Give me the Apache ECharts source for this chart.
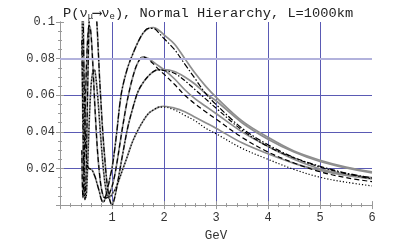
<!DOCTYPE html>
<html><head><meta charset="utf-8">
<script src="https://cdn.jsdelivr.net/npm/echarts@6/dist/echarts.min.js"></script>
<style>html,body{margin:0;padding:0;background:#fff}#c{width:400px;height:247px}</style>
</head><body><div id="c"></div>
<script>
// Energy grid (GeV)
const energy = [0.42,0.44,0.46,0.48,0.50,0.52,0.54,0.56,0.58,0.60,
  0.62,0.64,0.66,0.68,0.70,0.72,0.74,0.76,0.78,0.80,
  0.82,0.84,0.86,0.88,0.90,0.92,0.94,0.96,0.98,1.00,
  1.05,1.10,1.15,1.20,1.30,1.40,1.50,1.60,1.70,1.80,1.90,2.00,
  2.20,2.40,2.60,2.80,3.00,3.50,4.00,4.50,5.00,5.50,6.00];

// Exact curves (gray solid)
const exactA = [0.16,0.12,0.075,0.045,0.030,0.023,0.0205,0.020,0.0198,0.0195,
  0.019,0.018,0.0165,0.015,0.013,0.011,0.009,0.007,0.0045,0.0028,
  0.0018,0.0018,0.003,0.005,0.007,0.010,0.012,0.015,0.0175,0.020,
  0.030,0.042,0.055,0.064,0.075,0.0825,0.089,0.094,0.0965,0.097,0.0955,0.093,
  0.088,0.080,0.072,0.065,0.059,0.046,0.037,0.0295,0.0245,0.0208,0.0182];
const exactB = [0.030,0.004,0.015,0.045,0.068,0.084,0.094,0.098,0.097,0.092,
  0.083,0.072,0.060,0.049,0.039,0.030,0.023,0.017,0.012,0.0085,
  0.006,0.0045,0.004,0.0038,0.004,0.0045,0.0055,0.007,0.0085,0.010,
  0.016,0.024,0.033,0.042,0.058,0.070,0.078,0.081,0.080,0.078,0.076,0.074,
  0.069,0.063,0.058,0.054,0.050,0.040,0.032,0.025,0.0198,0.0168,0.0150];
const exactC = [0.090,0.045,0.012,0.003,0.015,0.045,0.075,0.100,0.120,0.135,
  0.140,0.138,0.130,0.118,0.104,0.094,0.082,0.070,0.060,0.050,
  0.041,0.033,0.026,0.019,0.013,0.0085,0.005,0.0025,0.0008,0.0,
  0.004,0.011,0.019,0.027,0.042,0.053,0.062,0.067,0.0705,0.073,0.074,0.074,
  0.073,0.070,0.066,0.061,0.057,0.045,0.036,0.029,0.0238,0.0203,0.0176];
const exactD = [0.120,0.070,0.030,0.008,0.004,0.013,0.028,0.044,0.057,0.066,
  0.071,0.0735,0.074,0.072,0.067,0.061,0.054,0.046,0.038,0.031,
  0.024,0.018,0.013,0.009,0.006,0.0045,0.004,0.0045,0.005,0.006,
  0.008,0.011,0.015,0.019,0.027,0.035,0.041,0.046,0.050,0.052,0.0535,0.054,
  0.053,0.051,0.048,0.045,0.042,0.034,0.028,0.0228,0.0190,0.0162,0.0143];

// Approximations (black)
const approxA = [0.16,0.12,0.075,0.045,0.030,0.023,0.0205,0.020,0.0198,0.0195,
  0.019,0.018,0.0165,0.015,0.013,0.011,0.009,0.007,0.0045,0.0028,
  0.0018,0.0018,0.003,0.005,0.007,0.010,0.012,0.015,0.0175,0.020,
  0.030,0.042,0.055,0.064,0.075,0.0825,0.089,0.094,0.0965,0.0965,0.094,0.091,
  0.085,0.077,0.069,0.061,0.055,0.042,0.033,0.026,0.0212,0.0175,0.0148];
const approxB = [0.030,0.004,0.015,0.045,0.068,0.084,0.094,0.098,0.097,0.092,
  0.083,0.072,0.060,0.049,0.039,0.030,0.023,0.017,0.012,0.0085,
  0.006,0.0045,0.004,0.0038,0.004,0.0045,0.0055,0.007,0.0085,0.010,
  0.016,0.024,0.033,0.042,0.058,0.070,0.078,0.081,0.0795,0.077,0.074,0.0715,
  0.066,0.060,0.0552,0.0510,0.047,0.037,0.029,0.023,0.0182,0.0150,0.0128];
const approxC = [0.090,0.045,0.012,0.003,0.015,0.045,0.075,0.100,0.120,0.135,
  0.140,0.138,0.130,0.118,0.104,0.094,0.082,0.070,0.060,0.050,
  0.041,0.033,0.026,0.019,0.013,0.0085,0.005,0.0025,0.0008,0.0,
  0.004,0.011,0.019,0.027,0.042,0.053,0.062,0.067,0.0705,0.073,0.074,0.0735,
  0.072,0.068,0.063,0.058,0.053,0.041,0.032,0.0258,0.0208,0.0172,0.0143];
const approxD = [0.120,0.070,0.030,0.008,0.004,0.013,0.028,0.044,0.057,0.066,
  0.071,0.0735,0.074,0.072,0.067,0.061,0.054,0.046,0.038,0.031,
  0.024,0.018,0.013,0.009,0.006,0.0045,0.004,0.0045,0.005,0.006,
  0.008,0.011,0.015,0.019,0.027,0.035,0.041,0.046,0.050,0.052,0.0535,0.0535,
  0.052,0.049,0.046,0.042,0.039,0.031,0.025,0.0195,0.0152,0.0125,0.0105];

const xTickLabels = ['', '1', '2', '3', '4', '5', '6'];
const yTickLabels = ['', '0.02', '0.04', '0.06', '0.08', '0.1'];
const highlightGrid = [0.08];

function pairs(ys) { return energy.map((e, i) => [e, ys[i]]); }

const MONO = '"Liberation Mono", "DejaVu Sans Mono", monospace';
const BLUE = '#5a5ab4';
const FRAME = '#999999';
const T = 'rgba(0,0,0,0)';

const gray = (name, ys) => ({
  name, type: 'line', data: pairs(ys), showSymbol: false, smooth: 0.35,
  clip: true, z: 2, lineStyle: { color: '#8e8e8e', width: 1.7 }
});
const black = (name, ys, dash) => ({
  name, type: 'line', data: pairs(ys), showSymbol: false, smooth: 0.35,
  clip: true, z: 3, lineStyle: { color: '#000', width: 1.2, type: dash }
});

const axisCommon = {
  min: 0, axisLine: { show: true, lineStyle: { color: FRAME, width: 1 } },
  axisTick: { show: true, inside: true, length: 4, lineStyle: { color: FRAME } },
  minorTick: { show: true, length: 2, lineStyle: { color: FRAME } }
};

const chart = echarts.init(document.getElementById('c'), null, { renderer: 'canvas' });
chart.setOption({
  animation: false,
  backgroundColor: '#fff',
  title: {
    left: 58, top: 0,
    text: '{t|P(ν}{s|μ}{t|⟶ν}{s|e}{t|), Normal Hierarchy, L=1000km}',
    textStyle: {
      fontWeight: 'normal',
      rich: {
        t: { fontFamily: MONO, fontSize: 13.7, fontWeight: 'normal', color: '#222', lineHeight: 16, verticalAlign: 'middle' },
        s: { fontFamily: MONO, fontSize: 9, fontWeight: 'normal', color: '#222', lineHeight: 16, verticalAlign: 'bottom', padding: [6, 0, 0, 0] }
      }
    }
  },
  grid: { left: 60, right: 28, top: 22, bottom: 34, containLabel: false },
  xAxis: [
    Object.assign({}, axisCommon, {
      type: 'value', max: 6, interval: 1, position: 'bottom',
      minorTick: { show: true, splitNumber: 5, length: 2, lineStyle: { color: FRAME } },
      axisLabel: { fontFamily: MONO, fontSize: 12, color: '#333', margin: 7,
        formatter: v => xTickLabels[Math.round(v)] || '' },
      name: 'GeV', nameLocation: 'middle', nameGap: 22,
      nameTextStyle: { fontFamily: MONO, fontSize: 12.5, color: '#333' },
      splitLine: { show: true, lineStyle: { color: [T, BLUE, BLUE, BLUE, BLUE, BLUE, T], width: 1 } }
    }),
    Object.assign({}, axisCommon, {
      type: 'value', max: 6, interval: 1, position: 'top',
      minorTick: { show: true, splitNumber: 5, length: 2, lineStyle: { color: FRAME } },
      axisLabel: { show: false }, splitLine: { show: false }
    })
  ],
  yAxis: [
    Object.assign({}, axisCommon, {
      type: 'value', max: 0.1, interval: 0.02, position: 'left',
      minorTick: { show: true, splitNumber: 4, length: 2, lineStyle: { color: FRAME } },
      axisLabel: { fontFamily: MONO, fontSize: 12, color: '#333', margin: 5,
        formatter: v => yTickLabels[Math.round(v / 0.02)] || '' },
      splitLine: { show: true, lineStyle: { color: [T, BLUE, BLUE, BLUE, T, T], width: 1 } }
    }),
    Object.assign({}, axisCommon, {
      type: 'value', max: 0.1, interval: 0.02, position: 'right',
      minorTick: { show: true, splitNumber: 4, length: 2, lineStyle: { color: FRAME } },
      axisLabel: { show: false }, splitLine: { show: false }
    })
  ],
  series: [
    Object.assign(gray('exactA', exactA), {
      markLine: { silent: true, symbol: 'none', label: { show: false },
        lineStyle: { color: '#b2b2dc', width: 2, type: 'solid' },
        data: highlightGrid.map(v => ({ yAxis: v })) }
    }),
    gray('exactB', exactB),
    gray('exactC', exactC),
    gray('exactD', exactD),
    black('approxA', approxA, [6, 2, 1.5, 2]),
    black('approxB', approxB, [5, 3]),
    black('approxC', approxC, [5, 2, 1.5, 2]),
    black('approxD', approxD, [1.2, 2])
  ]
});
</script></body></html>
